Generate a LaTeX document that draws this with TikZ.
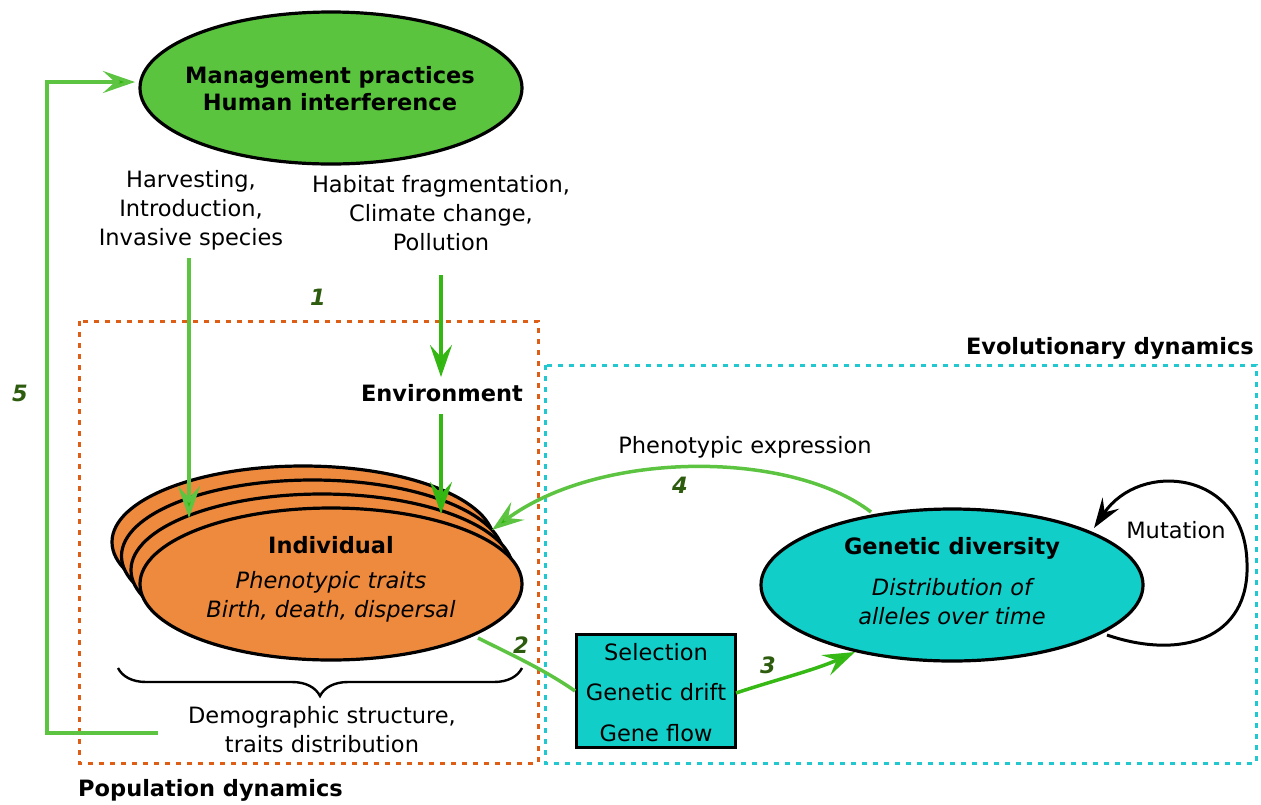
\documentclass[tikz,border=0pt]{standalone}
\usepackage{fontspec}
\setmainfont{DejaVu Sans}
\usetikzlibrary{arrows.meta,decorations.pathreplacing,shapes.geometric,calc}
\definecolor{mgreen}{HTML}{5AC43E}
\definecolor{agreen}{HTML}{5CC441}
\definecolor{tipgreen}{HTML}{2DB50A}
\definecolor{numgreen}{HTML}{2E5C0E}
\definecolor{orfill}{HTML}{EE8A3E}
\definecolor{orline}{HTML}{DD5E14}
\definecolor{cyfill}{HTML}{12CEC8}
\definecolor{cyline}{HTML}{22C8D0}
\begin{document}
\begin{tikzpicture}[x=1pt,y=-1pt,
  font=\fontsize{22.5}{29}\selectfont,
  bigell/.style={ellipse, draw=black, line width=3.2pt, minimum width=382pt, minimum height=152pt, inner sep=0pt},
  txt/.style={align=center, inner sep=0pt},
  numlbl/.style={font=\fontsize{22.5}{29}\selectfont\bfseries\itshape, text=numgreen, inner sep=0pt},
  gline/.style={draw=agreen, line width=3.5pt},
  garrow/.style={draw=agreen, line width=3.5pt, -{Stealth[length=32pt,width=22pt,inset=12pt,fill=tipgreen]}},
  dotbox/.style={line width=3pt, dash pattern=on 5pt off 6pt}
]
\useasboundingbox (0,0) rectangle (1261,804);

% dotted frames
\draw[dotbox, draw=cyline] (545,365) rectangle (1256,763);
\draw[dotbox, draw=orline] (79,321) rectangle (538,763);
\node[txt, anchor=east, font=\fontsize{22.5}{29}\selectfont\bfseries] (evo) at (1254,348) {Evolutionary dynamics};
\node[txt, anchor=west, font=\fontsize{22.5}{29}\selectfont\bfseries] (pop) at (78,790) {Population dynamics};

% management ellipse
\node[bigell, fill=mgreen] (mgmt) at (331,88) {};
\node[txt, font=\fontsize{22.5}{27}\selectfont\bfseries] (mgmtt) at (330,89) {Management practices\\Human interference};

% pressures
\node[txt] (harv) at (191,210) {Harvesting,\\Introduction,\\Invasive species};
\node[txt] (habit) at (441,213) {Habitat fragmentation,\\Climate change,\\Pollution};
\node[txt, font=\fontsize{22.5}{29}\selectfont\bfseries] (env) at (442,393) {Environment};

% individuals stack
\node[bigell, fill=orfill] (ind3) at (303,542) {};
\node[bigell, fill=orfill] (ind2) at (312.5,556) {};
\node[bigell, fill=orfill] (ind1) at (322,570) {};
\node[bigell, fill=orfill] (ind) at (331,584) {};
\node[txt, font=\fontsize{22.5}{29}\selectfont\bfseries] (indt) at (331,545) {Individual};
\node[txt, font=\fontsize{22.5}{29}\selectfont\itshape] (indtr) at (331,597) {Phenotypic traits\\Birth, death, dispersal};

% brace and demographic text
\coordinate (brR) at (522,668);
\coordinate (brL) at (118,668);
\draw[line width=2.4pt, decorate, decoration={brace, amplitude=28pt}] (brR) -- (brL);
\node[txt] (demo) at (322,730) {Demographic structure,\\traits distribution};

% genetic diversity
\node[bigell, fill=cyfill] (gen) at (952,585) {};
\node[txt, font=\fontsize{22.5}{29}\selectfont\bfseries] (gent) at (952,548) {Genetic diversity};
\node[txt, font=\fontsize{22.5}{29}\selectfont\itshape] (gendist) at (952,602) {Distribution of\\alleles over time};

% mechanisms box
\node[draw=black, line width=3pt, fill=cyfill, minimum width=159pt, minimum height=113pt, inner sep=0pt] (mech) at (656,691) {};
\node[txt] (sel) at (656,652) {Selection};
\node[txt] (drift) at (656,692) {Genetic drift};
\node[txt] (flow) at (656,733) {Gene flow};

% labels
\node[txt] (phex) at (745,447) {Phenotypic expression};
\node[txt] (mut) at (1176,530) {Mutation};
\node[numlbl] (n1) at (318,297) {1};
\node[numlbl] (n2) at (521,645) {2};
\node[numlbl] (n3) at (768,665) {3};
\node[numlbl] (n4) at (680,485) {4};
\node[numlbl] (n5) at (20,393) {5};

% connectors
\coordinate (h0) at (189,258);
\coordinate (h1) at (189,518);
\draw[garrow] (h0) -- (h1);
\coordinate (p0) at (441,275);
\coordinate (p1) at (441,377);
\draw[garrow, draw=tipgreen!85!agreen] (p0) -- (p1);
\coordinate (e0) at (441,414);
\coordinate (e1) at (441,514);
\draw[garrow, draw=tipgreen!85!agreen] (e0) -- (e1);

\coordinate (f0) at (158,733);
\coordinate (f1) at (47,733);
\coordinate (f2) at (47,82);
\coordinate (f3) at (135,82);
\draw[garrow] (f0) -- (f1) -- (f2) -- (f3);

\coordinate (g4s) at (871,512);
\coordinate (g4e) at (492,530);
\draw[garrow] (g4s) .. controls (790,450) and (600,450) .. (g4e);

\coordinate (s2) at (478,638);
\draw[gline] (s2) .. controls (510,654) and (545,670) .. (mech.west);

\coordinate (s3) at (736,693);
\coordinate (e3) at (855,652);
\draw[garrow, draw=tipgreen!80!agreen] (s3) .. controls (775,680) and (815,670) .. (e3);

\coordinate (m0) at (1107,635);
\coordinate (m1) at (1247,563);
\coordinate (m2) at (1094,528);
\draw[line width=3pt, -{Stealth[length=30pt,width=20pt,inset=11pt]}] (m0) .. controls (1180,660) and (1250,640) .. (m1) .. controls (1245,470) and (1140,460) .. (m2);
\end{tikzpicture}
\end{document}
